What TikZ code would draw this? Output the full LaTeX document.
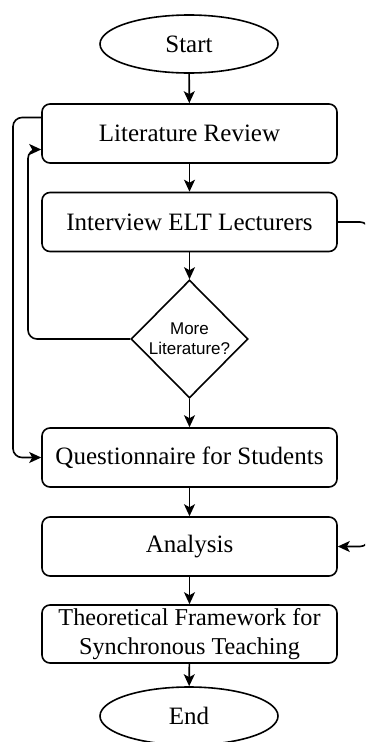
\documentclass[tikz,border=0pt]{standalone}
\usepackage{fontspec}
\setmainfont{Liberation Serif}
\newfontfamily\arialfont{Liberation Sans}
\usetikzlibrary{shapes.geometric,arrows.meta}
\begin{document}
\begin{tikzpicture}[x=1pt,y=-1pt,
  box/.style={draw, line width=1.6pt, rounded corners=8pt, minimum width=295pt, minimum height=59pt, inner sep=0pt, align=center, font=\fontsize{25}{29}\selectfont},
  term/.style={draw, ellipse, line width=1.6pt, minimum width=178pt, minimum height=58pt, inner sep=0pt, font=\fontsize{25}{29}\selectfont},
  dec/.style={draw, diamond, line width=1.6pt, minimum width=117pt, minimum height=118pt, inner sep=0pt},
  arr/.style={-{Stealth[length=12pt,width=11pt,inset=3pt]}, line width=1.6pt},
  loop/.style={arr, rounded corners=9pt}
]
\useasboundingbox (0,0) rectangle (365,742);
\clip (0,0) rectangle (365,742);
\node[term] (start) at (189,44) {Start};
\node[box] (lit) at (189.5,133.5) {Literature Review};
\node[box] (int) at (189.5,222) {Interview ELT Lecturers};
\node[dec, label={[font=\arialfont\fontsize{17}{20}\selectfont, align=center]center:More\\Literature?}] (dec) at (189.5,339) {};
\node[box] (que) at (189.5,457.5) {Questionnaire for Students};
\node[box] (ana) at (189.5,546.5) {Analysis};
\node[box, minimum height=58pt, font=\fontsize{24.2}{29}\selectfont] (the) at (189.5,634) {Theoretical Framework for\\Synchronous Teaching};
\node[term] (end) at (189,716) {End};

\draw[arr] (start) -- (lit);
\draw[arr] (lit) -- (int);
\draw[arr] (int) -- (dec);
\draw[arr] (dec) -- (que);
\draw[arr] (que) -- (ana);
\draw[arr] (ana) -- (the);
\draw[arr] (the) -- (end);

\draw[loop] ([yshift=16pt]lit.west) -| (13,440) |- (que.west);
\draw[loop] (dec.west) -| (28,200) |- ([yshift=-16pt]lit.west);
\draw[loop] (int.east) -| (369,400) |- (ana.east);
\end{tikzpicture}
\end{document}
